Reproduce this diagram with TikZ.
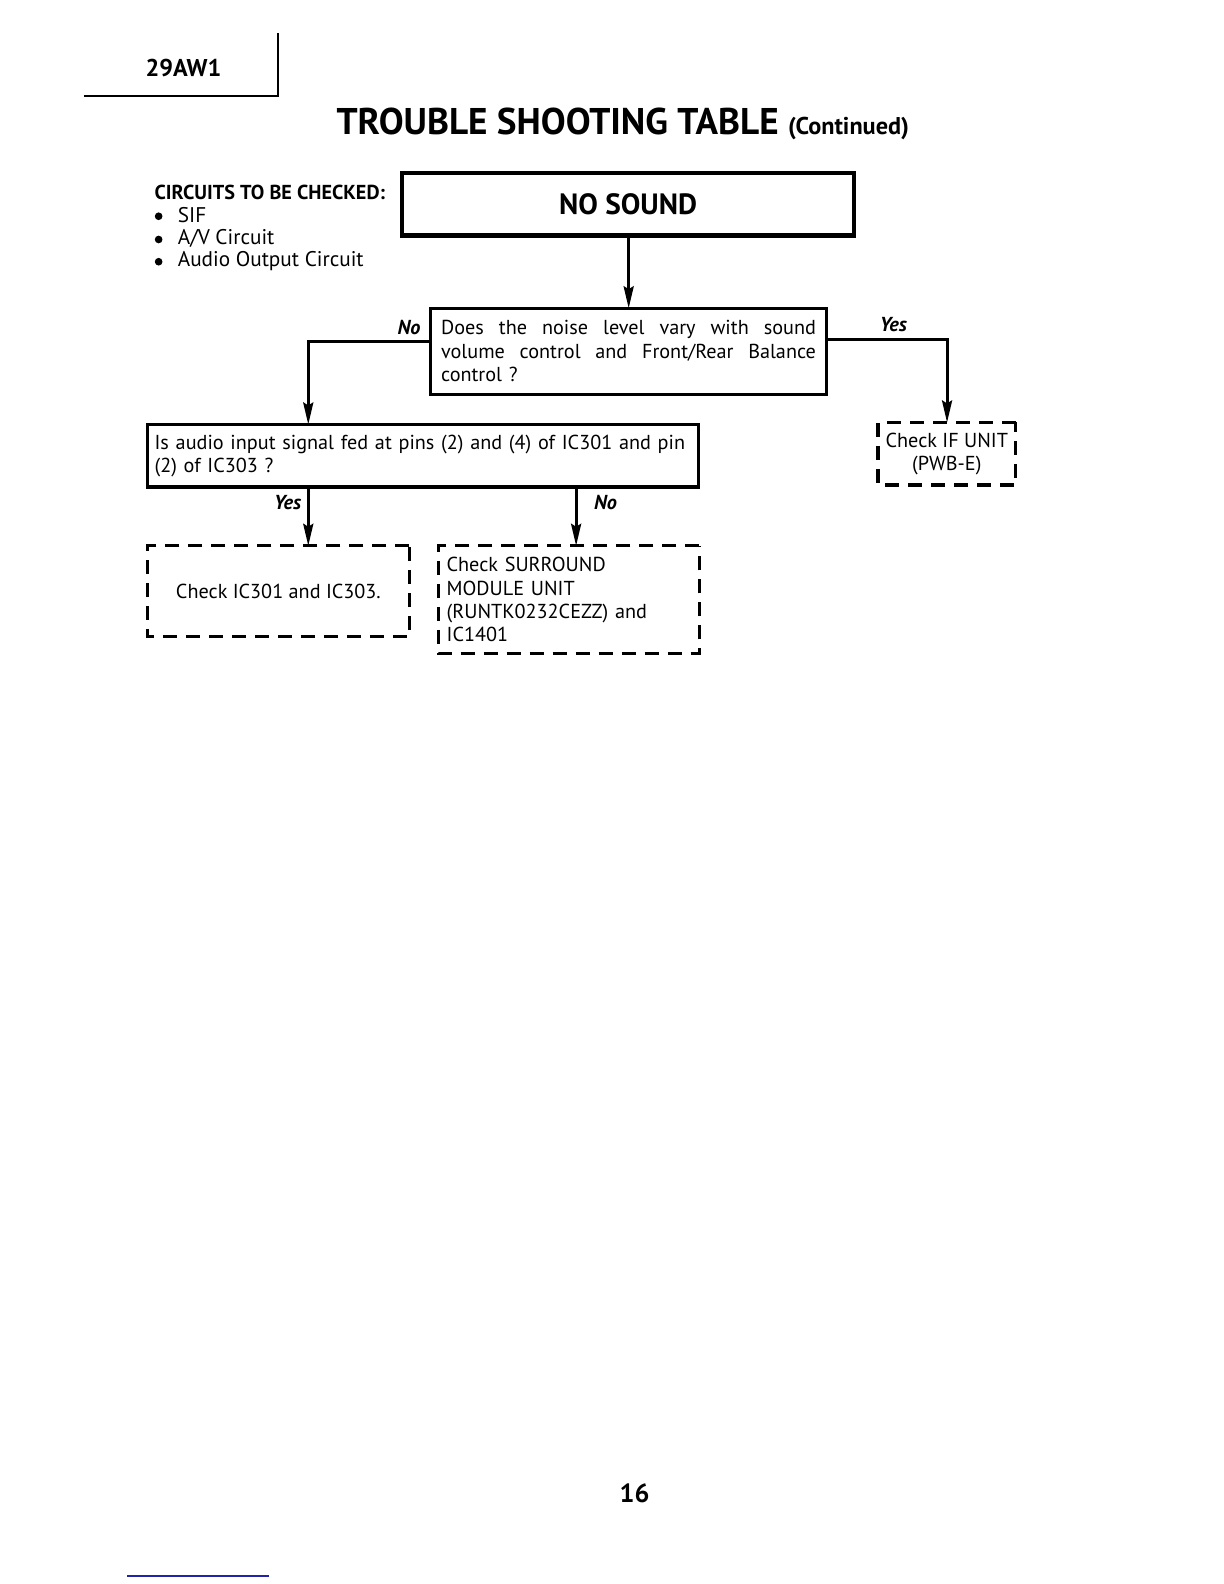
\documentclass[tikz,border=0pt]{standalone}
\usepackage{fontspec}
\setmainfont{PT Sans}
\usetikzlibrary{arrows.meta}
\definecolor{fnblue}{RGB}{35,35,170}
\begin{document}
\begin{tikzpicture}[x=0.5pt,y=-0.5pt,
  every node/.style={inner sep=0pt, outer sep=0pt},
  solidbox/.style={draw, line width=1.5pt},
  dashbox/.style={draw, line width=1.7pt, dash pattern=on 7pt off 4.5pt},
  conn/.style={line width=1.5pt},
  arr/.style={conn, -{Stealth[length=11pt,width=5pt,inset=1.5pt]}},
  lbl/.style={font=\fontsize{10}{12}\selectfont\bfseries\itshape},
  body/.style={font=\fontsize{10}{11.5}\selectfont},
  item/.style={font=\fontsize{10.5}{12}\selectfont}]
\useasboundingbox (0,0) rectangle (1224,1584);
\fill[white] (0,0) rectangle (1224,1584);

\begin{scope}[scale=1.0105, transform shape]
% header
\node[font=\fontsize{12}{14}\selectfont\bfseries, anchor=west] (model) at (144,67) {29AW1};
\coordinate (hdrA) at (83,95);
\coordinate (hdrB) at (275,95);
\coordinate (hdrC) at (275,33);
\draw[line width=1pt] (hdrA) -- (hdrB) -- (hdrC);

% title
\node[font=\fontsize{18.4}{22}\selectfont\bfseries, anchor=base west] (title) at (333,133)
  {TROUBLE SHOOTING TABLE {\fontsize{12}{14}\selectfont(Continued)}};

% circuits list
\node[font=\fontsize{10}{12}\selectfont\bfseries, anchor=west] (circ) at (153,190) {CIRCUITS TO BE CHECKED:};
\node[item, anchor=west] (c1) at (176,213) {SIF};
\node[item, anchor=west] (c2) at (176,236) {A/V Circuit};
\node[item, anchor=west] (c3) at (176,258) {Audio Output Circuit};
\fill (157,214) circle (1.9pt);
\fill (157,237) circle (1.9pt);
\fill (157,259) circle (1.9pt);

% boxes
\node[solidbox, line width=2.2pt, minimum width=223.5pt, minimum height=31pt,
      font=\fontsize{14.5}{16}\selectfont\bfseries] (ns) at (621.5,202) {NO SOUND};

\node[solidbox, minimum width=196pt, minimum height=42.5pt,
      text width=185.5pt, align=left, body] (q1) at (622,347.5)
  {\makebox[185.5pt][s]{\spaceskip=0pt Does the noise level vary with sound}\\
   \makebox[185.5pt][s]{\spaceskip=0pt volume control and Front/Rear Balance}\\
   control ?};

\node[solidbox, line width=1.6pt, minimum width=272.5pt, minimum height=31pt,
      text width=265.5pt, align=left, body] (q2) at (418.5,451)
  {Is audio input signal fed at pins (2) and (4) of IC301 and pin\\
   (2) of IC303 ?};

\node[dashbox, minimum width=68pt, minimum height=31pt, align=center, body] (ifb) at (937,449)
  {Check IF UNIT\\(PWB-E)};

\node[dashbox, minimum width=129.5pt, minimum height=45pt, body] (ba) at (275.5,585)
  {Check IC301 and IC303.};

\node[dashbox, minimum width=129pt, minimum height=53.5pt, text width=121pt, align=left, body] (bb) at (563,593.5)
  {Check SURROUND\\MODULE UNIT\\(RUNTK0232CEZZ) and\\IC1401};

% connectors
\draw[arr] (ns.south -| q1.north) -- (q1.north);

\coordinate (noL) at (305,338);
\draw[arr] (q1.west |- noL) -| (q2.north -| noL);
\node[lbl, anchor=east] (lno1) at (416,324) {No};

\coordinate (yesR) at (937,336);
\draw[arr] (q1.east |- yesR) -| (ifb.north);
\node[lbl] (lyes1) at (884,321) {Yes};

\coordinate (yA) at (305,0);
\draw[arr] (q2.south -| yA) -- (ba.north -| yA);
\node[lbl, anchor=east] (lyes2) at (298,497) {Yes};

\coordinate (nB) at (570,0);
\draw[arr] (q2.south -| nB) -- (bb.north -| nB);
\node[lbl, anchor=west] (lno2) at (588,497) {No};

% page number
\node[font=\fontsize{13}{15}\selectfont\bfseries] (pg) at (628,1478) {16};

% footnote rule
\coordinate (fnA) at (126,1559);
\coordinate (fnB) at (266,1559);
\draw[line width=0.8pt, color=fnblue] (fnA) -- (fnB);
\end{scope}
\end{tikzpicture}
\end{document}
